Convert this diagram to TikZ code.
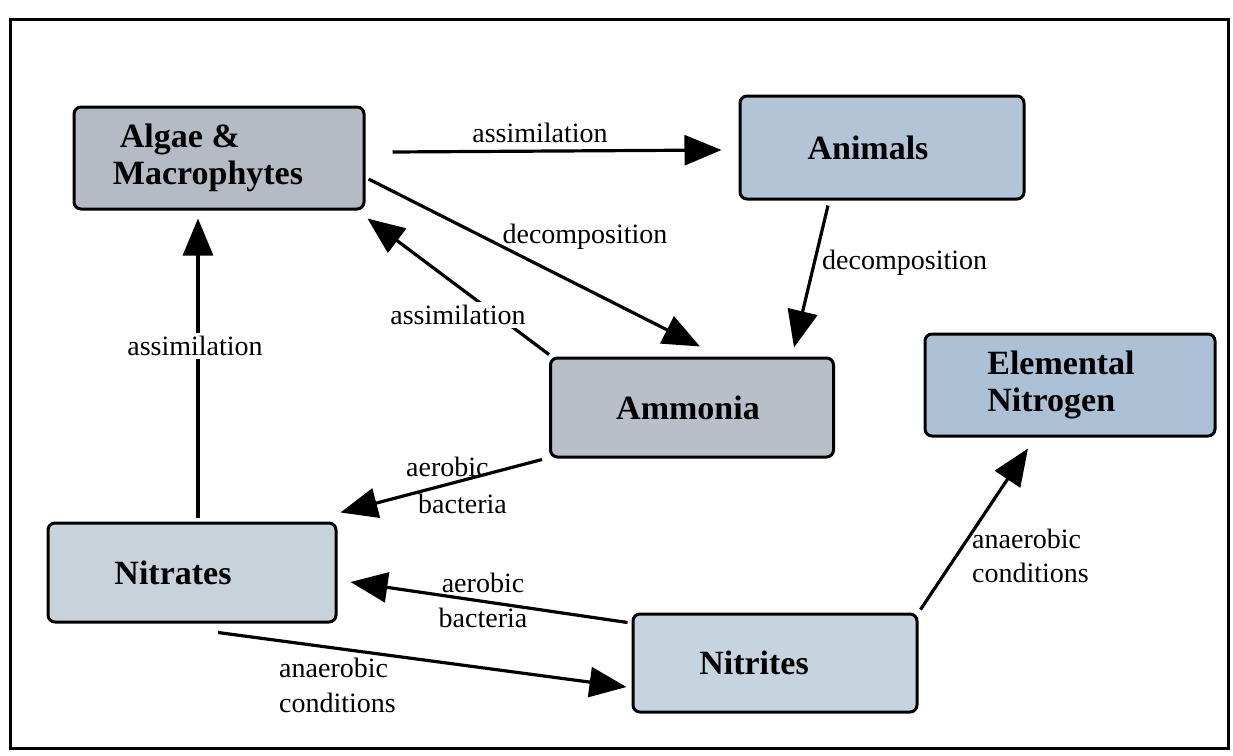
\documentclass[tikz,border=0pt]{standalone}
\usepackage{fontspec}
\setmainfont{Liberation Serif}
\usetikzlibrary{arrows.meta,calc}
\definecolor{cAlgae}{RGB}{180,187,197}
\definecolor{cAnimals}{RGB}{178,196,214}
\definecolor{cAmmonia}{RGB}{184,191,200}
\definecolor{cElem}{RGB}{172,192,214}
\definecolor{cNitrates}{RGB}{200,210,218}
\definecolor{cNitrites}{RGB}{198,212,224}
\begin{document}
\begin{tikzpicture}[x=1pt,y=-1pt,
  box/.style={draw=black, line width=3pt, rounded corners=7pt, align=center,
    inner sep=0pt, font=\fontsize{34}{37}\selectfont\bfseries},
  lbl/.style={font=\fontsize{28}{33}\selectfont, inner sep=0pt},
  arr/.style={line width=3.2pt, -{Triangle[length=37pt,width=30pt]}}]
\useasboundingbox (0,0) rectangle (1233,755);
\node[draw=black, line width=3pt, minimum width=1218pt, minimum height=729pt, inner sep=0pt] (frame) at (619,383.5) {};
% boxes
\node[box, fill=cAlgae, minimum width=290pt, minimum height=102pt, align=left] (algae) at (219,158) {\hspace*{7pt}Algae \&\\Macrophytes\hspace*{22pt}};
\node[box, fill=cAnimals, minimum width=284pt, minimum height=103pt] (animals) at (882,147.5) {Animals\hspace*{28pt}};
\node[box, fill=cAmmonia, minimum width=283pt, minimum height=99pt] (ammonia) at (692,407.5) {Ammonia\hspace*{8pt}};
\node[box, fill=cElem, minimum width=290pt, minimum height=102pt, align=left] (elem) at (1070,385) {Elemental\hspace*{18pt}\\Nitrogen};
\node[box, fill=cNitrates, minimum width=288pt, minimum height=99pt] (nitrates) at (192,572.5) {Nitrates\hspace*{38pt}};
\node[box, fill=cNitrites, minimum width=284pt, minimum height=98pt] (nitrites) at (775,663) {Nitrites\hspace*{42pt}};
% connectors
\draw[arr] ($(algae.east)+(27,-6)$) -- ($(animals.west)+(-17,2.5)$);
\draw[arr] ($(algae.east)+(3,21)$) -- ($(ammonia.north)+(8,-10)$);
\draw[arr] ($(ammonia.north west)+(0,-2)$) -- ($(algae.south east)+(2,8)$);
\draw[arr] ($(animals.south)+(-54,5)$) -- ($(ammonia.north east)+(-41,-9)$);
\draw[arr] ($(nitrates.north)+(6,-4)$) -- ($(algae.south)+(-21,8)$);
\draw[arr] ($(ammonia.south west)+(-7,1)$) -- ($(nitrates.north east)+(3,-9)$);
\draw[arr] ($(nitrites.north west)+(-4,10)$) -- ($(nitrates.east)+(13,9.5)$);
\draw[arr] ($(nitrates.south)+(26,9)$) -- ($(nitrites.west)+(-5,24)$);
\draw[arr] ($(nitrites.north east)+(2,-3)$) -- ($(elem.south)+(-42,11)$);
% labels
\node[lbl] (l1) at (540,133) {assimilation};
\node[lbl] (l2) at (585,237) {decomposition};
\node[lbl, fill=white, inner sep=3pt] (l3) at (458,315) {assimilation};
\node[lbl, fill=white, inner sep=3pt] (l4) at (195,346) {assimilation};
\node[lbl, anchor=west] (l5) at (822,263) {decomposition};
\node[lbl, anchor=west, align=left, font=\fontsize{28}{37}\selectfont] (l6) at (406,485) {aerobic\\\hspace*{12pt}bacteria};
\node[lbl, align=center, font=\fontsize{28}{35}\selectfont] (l7) at (483,600) {aerobic\\bacteria};
\node[lbl, anchor=west, align=left, font=\fontsize{28}{35}\selectfont] (l8) at (279,685) {anaerobic\\conditions};
\node[lbl, anchor=west, align=left, font=\fontsize{28}{34}\selectfont] (l9) at (972,556) {anaerobic\\conditions};
\end{tikzpicture}
\end{document}
